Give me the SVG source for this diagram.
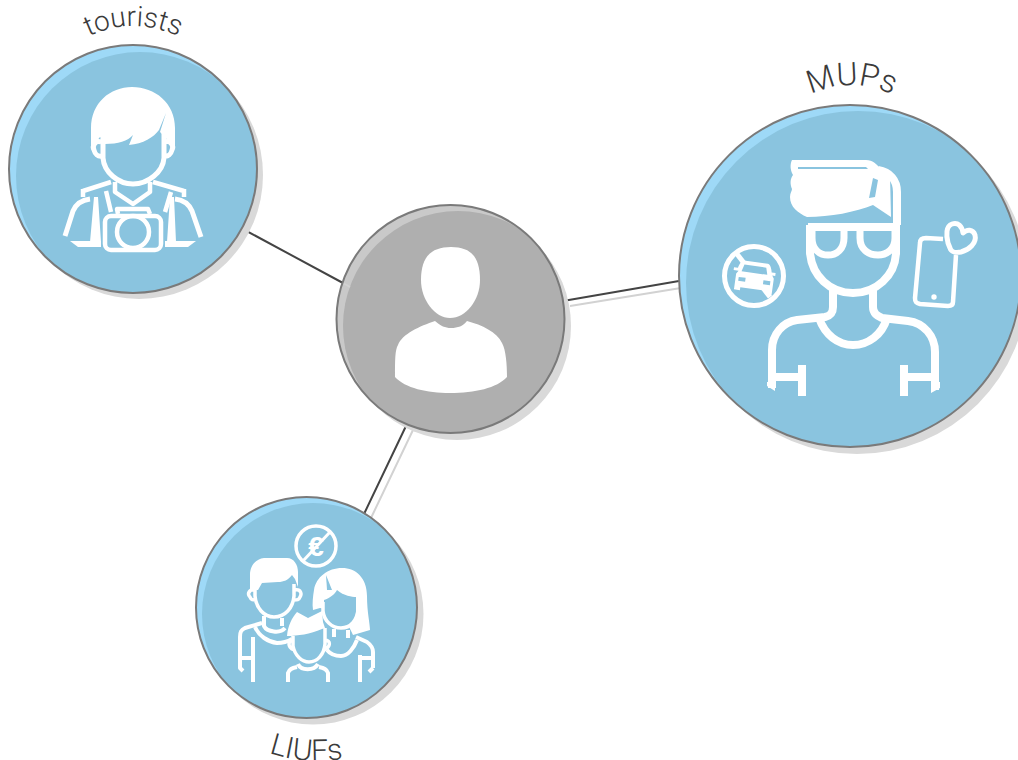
<svg xmlns="http://www.w3.org/2000/svg" xmlns:xlink="http://www.w3.org/1999/xlink" width="1018" height="760" viewBox="0 0 1018 760">
<style>
.shadow{fill:#d9d9d9}
.hl{fill:#9ed9f7}
.main{fill:#8ac4df}
.hlg{fill:#c9c9c9}
.maing{fill:#afafaf}
.rim{fill:none;stroke:#7a7a7a;stroke-width:2}
.i{fill:none;stroke:#fff;stroke-linecap:butt;stroke-linejoin:round}
.f{fill:#fff;stroke:none}
.b{fill:#8ac4df;stroke:none}
.lb{font-family:Roboto,"Liberation Sans",sans-serif;font-weight:300;fill:#3a3a3a}
.dk{stroke:#444;stroke-width:2;fill:none}
.lt{stroke:#d2d2d2;stroke-width:2;fill:none}
</style>
<defs>
<clipPath id="c1"><circle cx="133" cy="169" r="124"/></clipPath>
<clipPath id="c2"><circle cx="850" cy="276" r="171"/></clipPath>
<clipPath id="c3"><circle cx="306.500" cy="607.500" r="110.500"/></clipPath>
<clipPath id="c4"><circle cx="450.500" cy="319" r="114"/></clipPath>
<path id="p1" d="M85,38 Q133,14 182,38"/>
<path id="p2" d="M808,96 Q852,74 895,96"/>
<path id="p3" d="M266,752 Q306,766 346,758"/>
</defs>
<g id="connectors">
<path class="lt" d="M570,306L687,287M413,430L371,518"/>
<path class="dk" d="M241,228L343,283M563,301L679,281M406,426L364,514"/>
</g>
<g id="node-tourists">
<circle class="shadow" cx="139" cy="175" r="124"/>
<circle class="hl" cx="133" cy="169" r="124"/>
<circle class="main" cx="140" cy="176" r="124" clip-path="url(#c1)"/>
<circle class="rim" cx="133" cy="169" r="124"/>
<path class="f" d="M91,150V128C91,103 110,87 132,87C155,87 175,103 175,128V148L163,135L160,132L166,113L159,130C154,137 143,144 129,145L133,135C128,141 118,144 105,144L100,137L96,142Z"/>
<path class="i" stroke-width="5" d="M103,138V158C104,172 118,184 133,184C148,184 163,172 164,158V133M101,142C95,140 92,146 94,150C95,154 98,157 102,156M165,142C171,140 174,146 172,150C171,154 168,157 164,156"/>
<path class="i" stroke-width="4.500" d="M83,191L111,182M153,182L184,191M83,189V197M184,189V197M115,182V192L133,204L150,192V182M106,191L111,212M171,192L165,212"/>
<path class="i" stroke-width="5" d="M65,236L73,211C76,204 82,200 90,199M201,237L192,211C189,204 184,200 175,199"/>
<path class="f" d="M94,197H98L101,242H90ZM170,197H174L176,242H167Z"/>
<path class="f" d="M70,241H101V247H78ZM165,241H196L188,247H165Z"/>
<path class="i" stroke-width="4.500" d="M118,214L117,209H148L150,214"/>
<rect class="b" x="104" y="215" width="58" height="35" rx="6"/>
<rect class="i" stroke-width="4.500" x="105" y="216" width="56" height="34" rx="6"/>
<circle class="i" stroke-width="4.500" cx="133" cy="232" r="16"/>
</g>
<g id="node-mups">
<circle class="shadow" cx="857" cy="283" r="171"/>
<circle class="hl" cx="850" cy="276" r="171"/>
<circle class="main" cx="858" cy="283" r="172" clip-path="url(#c2)"/>
<circle class="rim" cx="850" cy="276" r="171"/>
<path class="f" d="M792,160H866C873,160 876,164 880,168L890,176L891,217L873,205C856,212 830,217 807,217C798,213 790,207 790,197C790,193 792,191 792,189C790,184 790,179 793,175C790,170 790,164 792,160Z"/>
<path class="i" stroke-width="8" d="M878,170C890,172 897,180 897,192V225"/>
<path class="b" d="M798,167H866L868,169H798ZM873,178L878,180L875,197L869,198Z"/>
<path class="i" stroke-width="8" d="M810,225V253C812,276 830,293 853,293C876,293 895,276 896,253V225M808,227H898"/>
<path class="i" stroke-width="7" d="M812,228V238C812,249 819,255 828,255C837,255 844,249 844,238V228M860,228V238C860,249 868,255 878,255C887,255 895,249 895,238V228"/>
<path class="i" stroke-width="8" d="M833,290V307C833,314 829,316 825,317L797,320C783,322 772,334 772,350V388M873,290V307C873,314 878,316 882,318L908,321C924,323 935,336 935,352V390"/>
<path class="f" d="M767,382V386L775,391V382ZM940,382V388L931,393V382Z"/>
<path class="i" stroke-width="8" d="M819,318C825,335 838,345 853,345C868,345 882,335 887,318"/>
<path class="i" stroke-width="8" d="M770,377H802M802,365V396M904,365V396M904,377H936"/>
<path class="i" stroke-width="4.500" d="M943,239L926,238C922,238 920,240 920,243L915,298C915,302 916,303 920,304L948,306C951,306 953,305 953,302L956,255"/>
<circle class="f" cx="934" cy="297" r="2.700"/>
<path class="i" stroke-width="5" d="M948,243C946,235 946,226 952,224C958,222 962,226 963,233C967,229 973,229 975,235C977,243 969,250 961,252C956,253 951,252 950,248Z"/>
<circle class="i" stroke-width="5" cx="754" cy="276" r="29.500"/>
<path class="i" stroke-width="5" d="M737,254L770,297"/>
<g transform="rotate(8 754 276)">
<path class="f" d="M742,262H766C768,262 770,265 771,270H775V273H772L774,276V292H768V289H742V292H736V276L738,273H733V270H737C738,265 740,262 742,262Z"/>
<path class="b" d="M743,266H765L767,273H741ZM739,279H746V283H739ZM764,279H771V283H764Z"/>
</g>
</g>
<g id="node-liufs">
<circle class="shadow" cx="313" cy="614" r="110.500"/>
<circle class="hl" cx="306.500" cy="607.500" r="110.500"/>
<circle class="main" cx="313" cy="614" r="111" clip-path="url(#c3)"/>
<circle class="rim" cx="306.500" cy="607.500" r="110.500"/>
<circle class="i" stroke-width="3.500" cx="316" cy="546" r="20"/>
<text x="316" y="556" text-anchor="middle" font-family="'Liberation Sans',sans-serif" font-weight="700" font-size="28" fill="#fff">€</text>
<path class="i" stroke-width="3" d="M303,561L330,532"/>
<path class="f" d="M250,590V575C250,565 256,559 264,558H287C294,558 298,565 298,572V587L295,579L292,575C288,580 284,582 278,582L262,583L258,590Z"/>
<path class="i" stroke-width="3.500" d="M255,586V596C256,608 264,617 274,617C285,617 293,608 294,596V584M255,590C249,589 247,594 250,597C251,600 253,600 256,600M295,590C301,589 302,594 300,597C299,600 297,600 294,600"/>
<path class="i" stroke-width="4" d="M264,616V626C267,632 280,634 285,628M282,618V626M255,627C259,636 268,642 277,643C282,643 287,642 292,639"/>
<path class="i" stroke-width="4" d="M262,623L245,628C241,630 240,632 240,637V660M253,637V682M240,658H253M240,658V668L243,671"/>
<path class="f" d="M342,568C356,568 367,578 367,596C367,612 370,624 370,630L353,635L342,612L320,608L313,610C312,604 313,596 314,590C316,577 328,568 342,568Z"/>
<path class="b" d="M324,600C330,598 335,594 337,590C344,596 352,597 356,597V612C356,622 349,627 341,627C332,627 324,621 324,610Z"/>
<path class="i" stroke-width="3.500" d="M323,602V611C324,621 332,628 341,628C351,628 357,620 358,610V600"/>
<path class="b" d="M326,575L332,590L327,590Z"/>
<path class="i" stroke-width="4" d="M348,630V638M334,629V637M356,637L367,642C371,645 373,648 373,652V668M360,655V682M360,658H373M327,650C331,655 336,656 341,656C348,656 354,648 357,640M373,668L369,672"/>
<path class="f" d="M287,636C288,625 292,618 297,612L308,618L322,611L323,622L325,628L322,629C310,634 298,636 287,636Z"/>
<path class="i" stroke-width="3.500" d="M293,636V646C295,656 302,662 309,662C317,662 324,655 325,644V628M293,640C288,640 287,647 294,650M325,640C331,640 331,647 324,650"/>
<path class="i" stroke-width="4" stroke-linecap="round" d="M288,682V673C289,669 292,668 297,667M328,682V673C327,669 324,668 319,667M298,664C301,671 314,671 318,664"/>
</g>
<g id="node-center">
<circle class="shadow" cx="457" cy="326" r="114"/>
<circle class="hlg" cx="450.500" cy="319" r="114"/>
<circle class="maing" cx="458" cy="326" r="115" clip-path="url(#c4)"/>
<path d="M343,283L350,287" stroke="#d2d2d2" stroke-width="2"/>
<circle class="rim" cx="450.500" cy="319" r="114"/>
<path class="f" d="M451,247C470,247 480,256 480,280C480,300 466,318 450,318C435,318 421,300 421,280C421,256 432,247 451,247Z"/>
<path class="f" d="M395,377C395,360 395,350 398,345C402,334 420,326 435,321C441,326 445,328 451,328C458,328 463,326 467,321C482,325 497,332 502,343C506,350 507,365 507,377C497,388 475,393 450,393C427,393 405,388 395,377Z"/>
</g>
<g id="labels">
<text class="lb" font-size="28"><textPath xlink:href="#p1" href="#p1" startOffset="50%" text-anchor="middle">tourists</textPath></text>
<text class="lb" font-size="32"><textPath xlink:href="#p2" href="#p2" startOffset="50%" text-anchor="middle">MUPs</textPath></text>
<text class="lb" font-size="30"><textPath xlink:href="#p3" href="#p3" startOffset="50%" text-anchor="middle">LIUFs</textPath></text>
</g>
</svg>
